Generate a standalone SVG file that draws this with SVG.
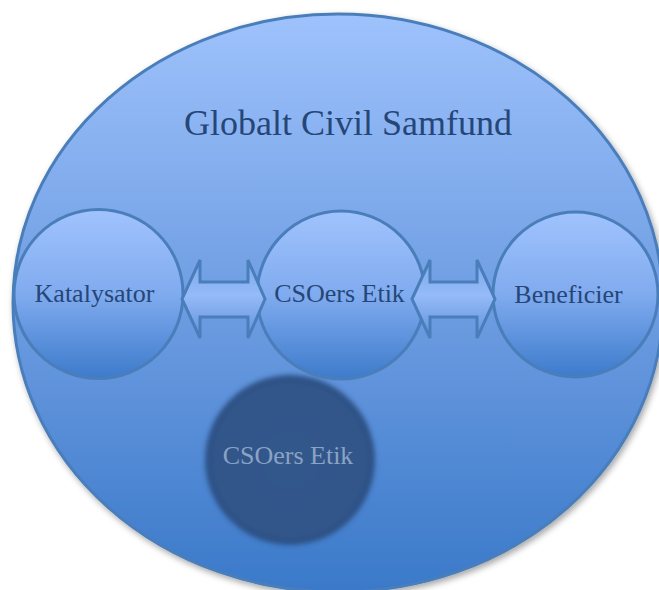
<svg xmlns="http://www.w3.org/2000/svg" width="659" height="590" viewBox="0 0 659 590">
  <style>
    text { font-family: 'Liberation Serif', Tinos, 'Times New Roman', Times, 'DejaVu Serif', serif; }
    .lbl { font-size: 26px; fill: #254676; text-anchor: middle; }
    .title { font-size: 36px; fill: #254676; text-anchor: middle; }
    .ghost { font-size: 26px; fill: #8aa3c5; text-anchor: middle; }
    .node { stroke: #4a7ebb; stroke-width: 3; fill: url(#gNode); }
    .arrow { stroke: #4a7ebb; stroke-width: 3; fill: url(#gArrow); stroke-linejoin: miter; }
  </style>
  <defs>
    <linearGradient id="gBig" x1="0" y1="0" x2="0" y2="1">
      <stop offset="0" stop-color="#9ec2fc"/>
      <stop offset="0.5" stop-color="#6e9de2"/>
      <stop offset="1" stop-color="#3a79c9"/>
    </linearGradient>
    <linearGradient id="gNode" x1="0" y1="0" x2="0" y2="1">
      <stop offset="0" stop-color="#a0c3fd"/>
      <stop offset="0.5" stop-color="#80abef"/>
      <stop offset="1" stop-color="#3d7bcb"/>
    </linearGradient>
    <linearGradient id="gArrow" x1="0" y1="0" x2="0" y2="1">
      <stop offset="0" stop-color="#7aa7eb"/>
      <stop offset="0.45" stop-color="#95bbf8"/>
      <stop offset="1" stop-color="#5f90da"/>
    </linearGradient>
    <radialGradient id="gDark" cx="0.5" cy="0.5" r="0.5">
      <stop offset="0" stop-color="#34598b"/>
      <stop offset="0.9" stop-color="#30558a"/>
      <stop offset="1" stop-color="#2b4e80"/>
    </radialGradient>
    <filter id="shadow" x="-10%" y="-10%" width="120%" height="120%">
      <feDropShadow dx="2" dy="3" stdDeviation="3" flood-color="#000" flood-opacity="0.35"/>
    </filter>
    <filter id="blur" x="-20%" y="-20%" width="140%" height="140%">
      <feGaussianBlur stdDeviation="2.5"/>
    </filter>
  </defs>

  <g id="globalt-civil-samfund">
    <ellipse cx="338" cy="303" rx="325" ry="289" fill="url(#gBig)" stroke="#4a7ebb" stroke-width="3" filter="url(#shadow)"/>
    <text class="title" x="348" y="135">Globalt Civil Samfund</text>
  </g>

  <g id="csoers-etik-shadow">
    <circle cx="290" cy="460" r="85" fill="url(#gDark)" filter="url(#blur)"/>
    <text class="ghost" x="288" y="464">CSOers Etik</text>
  </g>

  <g id="katalysator">
    <circle class="node" cx="98.5" cy="294" r="84.5"/>
    <text class="lbl" x="94.5" y="302">Katalysator</text>
  </g>

  <g id="csoers-etik">
    <circle class="node" cx="341" cy="295" r="84"/>
    <text class="lbl" x="339.5" y="302">CSOers Etik</text>
  </g>

  <g id="beneficier">
    <circle class="node" cx="575.5" cy="294.5" r="82.5"/>
    <text class="lbl" x="568.5" y="303">Beneficier</text>
  </g>

  <g id="connectors">
    <path class="arrow" d="M182,299 L200,260 L200,282 L248,282 L248,260 L265,299 L248,338 L248,317 L200,317 L200,338 Z"/>
    <path class="arrow" d="M412,299 L430,260 L430,282 L477,282 L477,260 L495,299 L477,338 L477,317 L430,317 L430,338 Z"/>
  </g>
</svg>
